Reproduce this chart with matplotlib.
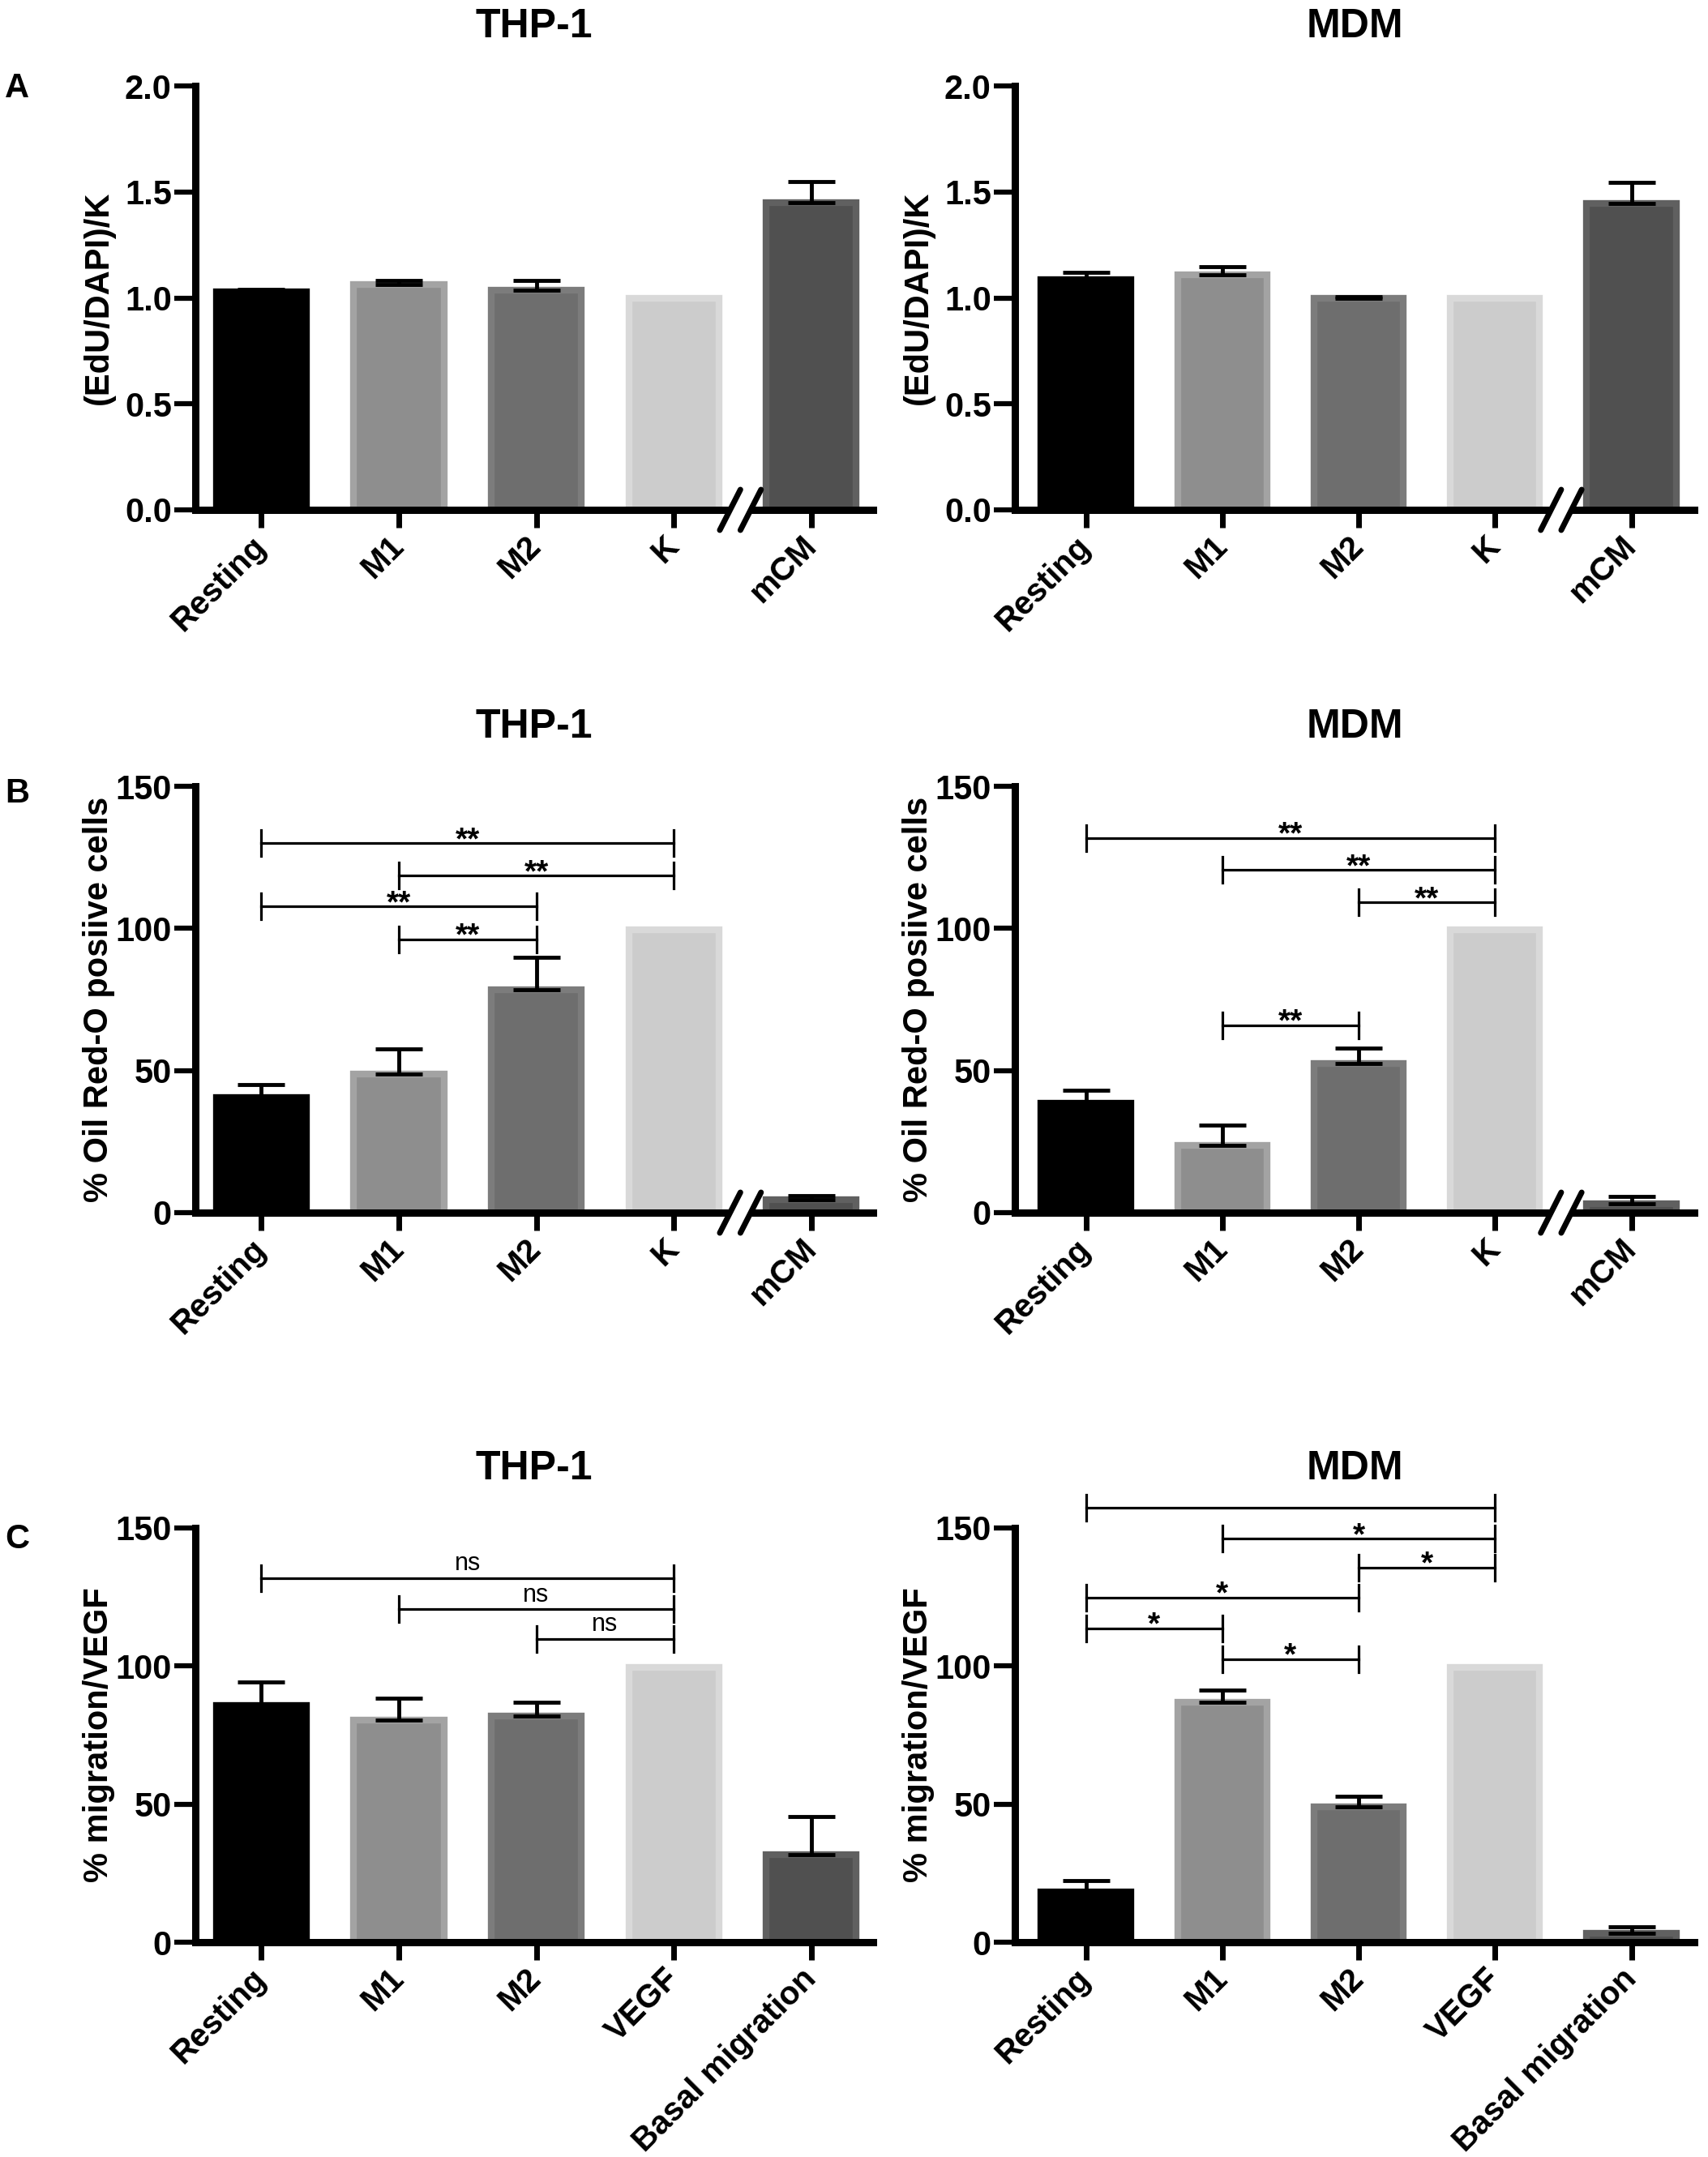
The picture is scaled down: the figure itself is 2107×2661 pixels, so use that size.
import numpy as np
import matplotlib
matplotlib.use('Agg')
import matplotlib.pyplot as plt

plt.rcParams['font.family'] = ['Liberation Sans', 'DejaVu Sans']
plt.rcParams['font.weight'] = 'bold'

# Categorias
cat_ab = ['Resting', 'M1', 'M2', 'K', 'mCM']
cat_c = ['Resting', 'M1', 'M2', 'VEGF', 'Basal migration']

# Panel A: (EdU/DAPI)/K
edu_thp1 = [1.03, 1.065, 1.035, 1.0, 1.45]
edu_thp1_err = [0.012, 0.016, 0.047, 0.0, 0.10]
edu_mdm = [1.085, 1.11, 1.0, 1.0, 1.445]
edu_mdm_err = [0.035, 0.037, 0.007, 0.0, 0.10]

# Panel B: % Oil Red-O
oil_thp1 = [40.5, 48.8, 78.5, 99.5, 4.5]
oil_thp1_err = [4.5, 8.8, 11.2, 0.0, 1.6]
oil_mdm = [38.6, 23.8, 52.6, 99.5, 3.2]
oil_mdm_err = [4.4, 7.1, 5.2, 0.0, 2.5]

# Panel C: % migration/VEGF
mig_thp1 = [85.6, 80.5, 82.0, 99.5, 31.7]
mig_thp1_err = [8.5, 7.8, 4.9, 0.0, 13.8]
mig_mdm = [18.3, 86.8, 49.1, 99.5, 3.2]
mig_mdm_err = [4.1, 4.4, 3.8, 0.0, 2.4]

# Comparaciones: (barra i, barra j, altura, etiqueta)
sig_oil_thp1 = [(0, 3, 130.0, '**'), (1, 3, 118.5, '**'), (0, 2, 107.7, '**'), (1, 2, 96.2, '**')]
sig_oil_mdm = [(0, 3, 131.8, '**'), (1, 3, 120.6, '**'), (2, 3, 109.1, '**'), (1, 2, 66.0, '**')]
sig_mig_thp1 = [(0, 3, 131.9, 'ns'), (1, 3, 120.5, 'ns'), (2, 3, 109.8, 'ns')]
sig_mig_mdm = [(0, 3, 157.2, ''), (1, 3, 146.1, '*'), (2, 3, 135.7, '*'),
               (0, 2, 124.9, '*'), (0, 1, 113.6, '*'), (1, 2, 102.5, '*')]

relleno = ['#000000', '#8e8e8e', '#6e6e6e', '#cccccc', '#505050']
borde = ['#000000', '#a3a3a3', '#7c7c7c', '#d9d9d9', '#606060']

W, H = 2107, 2661
fig = plt.figure(figsize=(W / 100, H / 100), dpi=100)

cols = [(241, 1077, (-0.48, 4.45)), (1252, 2090, (-0.52, 4.46))]
rows = [(106, 629), (970, 1496), (1885, 2396)]


def nuevo_eje(col, row):
    x0, x1, xl = cols[col]
    y0, y1 = rows[row]
    ax = fig.add_axes([x0 / W, 1 - y1 / H, (x1 - x0) / W, (y1 - y0) / H])
    ax.set_xlim(*xl)
    return ax, (y1 - y0)


def dibujar(ax, cats, vals, errs, ylabel, ylim, yticks, fmt, titulo):
    x = np.arange(len(cats))
    ax.bar(x, vals, width=0.655, color=relleno, edgecolor=borde, linewidth=6, zorder=2)
    xe = [xi for xi, e in zip(x, errs) if e > 0]
    ve = [v for v, e in zip(vals, errs) if e > 0]
    ee = [e for e in errs if e > 0]
    ax.errorbar(xe, ve, yerr=[np.zeros(len(ee)), ee], fmt='none', ecolor='black',
                elinewidth=3.5, capsize=21, capthick=3.5, zorder=3)
    ax.set_ylim(*ylim)
    ax.set_yticks(yticks)
    ax.set_yticklabels([fmt.format(t) for t in yticks])
    ax.set_xticks(x)
    ax.set_xticklabels(cats, rotation=45, ha='right', va='center', rotation_mode='anchor')
    for s in ['top', 'right']:
        ax.spines[s].set_visible(False)
    for s in ['left', 'bottom']:
        ax.spines[s].set_linewidth(6.5)
        ax.spines[s].set_zorder(4)
    ax.tick_params(axis='y', length=19, width=4.5, pad=2, labelsize=30)
    ax.tick_params(axis='x', length=16, width=5, pad=12, labelsize=29)
    ax.set_ylabel(ylabel, fontsize=30, fontweight='bold')
    ax.yaxis.set_label_coords(-0.118, 0.5)
    ax.annotate(titulo, xy=(0.5, 1), xycoords='axes fraction', xytext=(0, 43),
                textcoords='offset points', ha='center', va='baseline', fontsize=36)


def corchetes(ax, sigs, hpx, ymax):
    d = 16 * ymax / hpx
    for i, j, y, lab in sigs:
        ax.plot([i, j], [y, y], color='black', lw=2.3, clip_on=False, zorder=5)
        ax.plot([i, i], [y - d, y + d], color='black', lw=2.3, clip_on=False, zorder=5)
        ax.plot([j, j], [y - d, y + d], color='black', lw=2.3, clip_on=False, zorder=5)
        if lab == 'ns':
            ax.annotate(lab, xy=((i + j) / 2, y), xytext=(0, 7), textcoords='offset points',
                        ha='center', va='baseline', fontsize=22, fontweight='normal')
        elif lab:
            ax.annotate(lab, xy=((i + j) / 2, y), xytext=(0, -5), textcoords='offset points',
                        ha='center', va='baseline', fontsize=28, fontweight='bold')


def corte(ax, hpx, ymax):
    d = 25 * ymax / hpx
    ax.plot([3.41, 3.56], [0, 0], color='white', lw=9, clip_on=False, zorder=6,
            solid_capstyle='butt')
    for xc in [3.41, 3.56]:
        ax.plot([xc - 0.075, xc + 0.075], [-d, d], color='black', lw=5, clip_on=False,
                zorder=7, solid_capstyle='round')


# Fila A
ax, hp = nuevo_eje(0, 0)
dibujar(ax, cat_ab, edu_thp1, edu_thp1_err, '(EdU/DAPI)/K', (0, 2), [0, 0.5, 1.0, 1.5, 2.0], '{:.1f}', 'THP-1')
corte(ax, hp, 2)
ax, hp = nuevo_eje(1, 0)
dibujar(ax, cat_ab, edu_mdm, edu_mdm_err, '(EdU/DAPI)/K', (0, 2), [0, 0.5, 1.0, 1.5, 2.0], '{:.1f}', 'MDM')
corte(ax, hp, 2)

# Fila B
ax, hp = nuevo_eje(0, 1)
dibujar(ax, cat_ab, oil_thp1, oil_thp1_err, '% Oil Red-O posiive cells', (0, 150), [0, 50, 100, 150], '{:.0f}', 'THP-1')
corchetes(ax, sig_oil_thp1, hp, 150)
corte(ax, hp, 150)
ax, hp = nuevo_eje(1, 1)
dibujar(ax, cat_ab, oil_mdm, oil_mdm_err, '% Oil Red-O posiive cells', (0, 150), [0, 50, 100, 150], '{:.0f}', 'MDM')
corchetes(ax, sig_oil_mdm, hp, 150)
corte(ax, hp, 150)

# Fila C
ax, hp = nuevo_eje(0, 2)
dibujar(ax, cat_c, mig_thp1, mig_thp1_err, '% migration/VEGF', (0, 150), [0, 50, 100, 150], '{:.0f}', 'THP-1')
corchetes(ax, sig_mig_thp1, hp, 150)
ax, hp = nuevo_eje(1, 2)
dibujar(ax, cat_c, mig_mdm, mig_mdm_err, '% migration/VEGF', (0, 150), [0, 50, 100, 150], '{:.0f}', 'MDM')
corchetes(ax, sig_mig_mdm, hp, 150)

# Letras de panel
for letra, yb in [('A', 120), ('B', 990), ('C', 1910)]:
    fig.text(6 / W, 1 - yb / H, letra, fontsize=30, va='baseline', ha='left')

fig.savefig('out.png', dpi=100)
